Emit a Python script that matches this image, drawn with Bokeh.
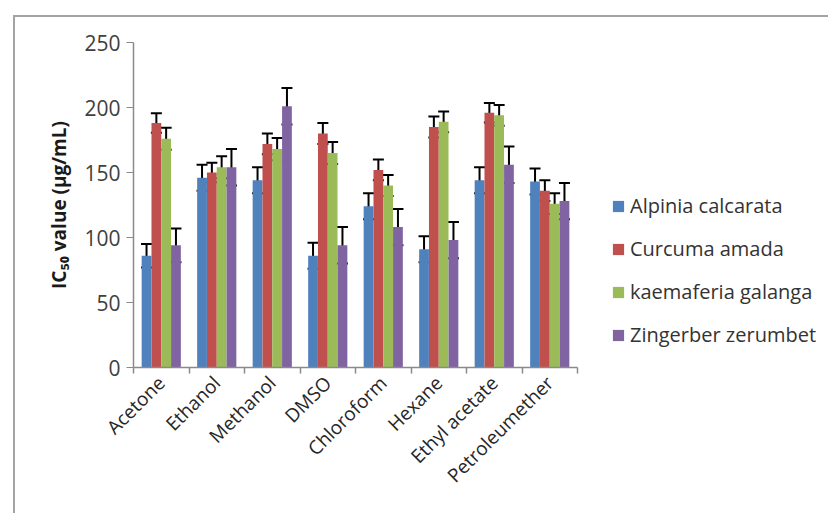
import math
from bokeh.plotting import figure
from bokeh.models import (ColumnDataSource, Range1d, FixedTicker, Whisker, TeeHead,
                          Legend, LegendItem)
from bokeh.embed import file_html
from bokeh.resources import INLINE

categories = ["Acetone", "Ethanol", "Methanol", "DMSO", "Chloroform", "Hexane",
              "Ethyl acetate", "Petroleumether"]
series_names = ["Alpinia calcarata", "Curcuma amada", "kaemaferia galanga", "Zingerber zerumbet"]
alpinia = [86, 146, 144, 86, 124, 91, 144, 143]
alpinia_err = [9, 10, 10, 10, 10, 10, 10, 10]
curcuma = [188, 150, 172, 180, 152, 185, 196, 136]
curcuma_err = [7.5, 7.5, 8, 8, 8, 8, 7.5, 8]
kaempferia = [176, 154, 168, 165, 140, 189, 194, 126]
kaempferia_err = [8.5, 8.5, 8.5, 8.5, 8, 8, 8, 8]
zingiber = [94, 154, 201, 94, 108, 98, 156, 128]
zingiber_err = [13, 14, 14, 14, 14, 14, 14, 14]
y_ticks = [0, 50, 100, 150, 200, 250]

colors = ["#4F81BD", "#C0504D", "#9BBB59", "#8064A2"]
values = [alpinia, curcuma, kaempferia, zingiber]
errors = [alpinia_err, curcuma_err, kaempferia_err, zingiber_err]
offsets = [-0.265, -0.088, 0.088, 0.265]
bar_w = 0.176
FONT = "Open Sans"

p = figure(frame_width=444, frame_height=325, output_backend="svg", toolbar_location=None,
           x_range=Range1d(0, 8), y_range=Range1d(0, 250),
           min_border_left=118, min_border_top=25, min_border_bottom=146, min_border_right=240)
p.styles = {"border-top": "2px solid #a3a3a3", "border-left": "2px solid #a3a3a3",
            "margin-left": "13px", "margin-top": "15px"}
p.outline_line_color = None
p.xgrid.grid_line_color = None
p.ygrid.grid_line_color = None
p.background_fill_color = "white"
p.border_fill_color = "white"

items = []
for k in range(4):
    xs = [i + 0.5 + offsets[k] for i in range(len(categories))]
    src = ColumnDataSource(dict(x=xs, top=values[k],
                                upper=[v + e for v, e in zip(values[k], errors[k])],
                                lower=[v - e for v, e in zip(values[k], errors[k])]))
    r = p.vbar(x="x", top="top", width=bar_w, bottom=0, source=src,
               fill_color=colors[k], line_color=None)
    w = Whisker(source=src, base="x", upper="upper", lower="lower", dimension="height",
                line_color="black", line_width=2,
                upper_head=TeeHead(size=11, line_width=2, line_color="black"),
                lower_head=TeeHead(size=11, line_width=2, line_color="black"))
    p.add_layout(w)
    items.append(LegendItem(label=series_names[k], renderers=[r]))

# y axis
ya = p.yaxis[0]
ya.ticker = FixedTicker(ticks=y_ticks)
ya.major_tick_out = 7
ya.major_tick_in = 0
ya.minor_tick_line_color = None
ya.axis_line_color = "#8a8a8a"
ya.major_tick_line_color = "#8a8a8a"
ya.axis_line_width = 1.5
ya.major_label_text_font = FONT
ya.major_label_text_font_size = "21px"
ya.major_label_text_color = "#404040"
ya.major_label_standoff = 6
ya.axis_label = "IC\u2085\u2080 value (\u00b5g/mL)"
ya.axis_label_text_font = FONT
ya.axis_label_text_font_style = "bold"
ya.axis_label_text_font_size = "19px"
ya.axis_label_text_color = "#1a1a1a"
ya.axis_label_standoff = 9

# x axis: labels at category centres, tick marks at category boundaries
xa = p.xaxis[0]
xa.ticker = FixedTicker(ticks=[i + 0.5 for i in range(len(categories))],
                        minor_ticks=list(range(len(categories) + 1)))
xa.major_label_overrides = {i + 0.5: c for i, c in enumerate(categories)}
xa.major_tick_line_color = None
xa.major_tick_out = 6
xa.major_tick_in = 0
xa.minor_tick_out = 6
xa.minor_tick_in = 0
xa.minor_tick_line_color = "#8a8a8a"
xa.minor_tick_line_width = 1.5
xa.axis_line_color = "#8a8a8a"
xa.axis_line_width = 1.5
xa.major_label_orientation = math.pi / 4
xa.major_label_standoff = 6
xa.major_label_text_font = FONT
xa.major_label_text_font_size = "19px"
xa.major_label_text_color = "#262626"

legend = Legend(items=items, location=(34, 19), orientation="vertical",
                label_text_font=FONT, label_text_font_size="20px", label_text_color="#333333",
                glyph_width=14, glyph_height=14, label_height=20, spacing=16,
                label_standoff=5, padding=0, margin=0,
                border_line_color=None, background_fill_alpha=0)
p.add_layout(legend, "right")

open("out.html", "w").write(file_html(p, INLINE))
